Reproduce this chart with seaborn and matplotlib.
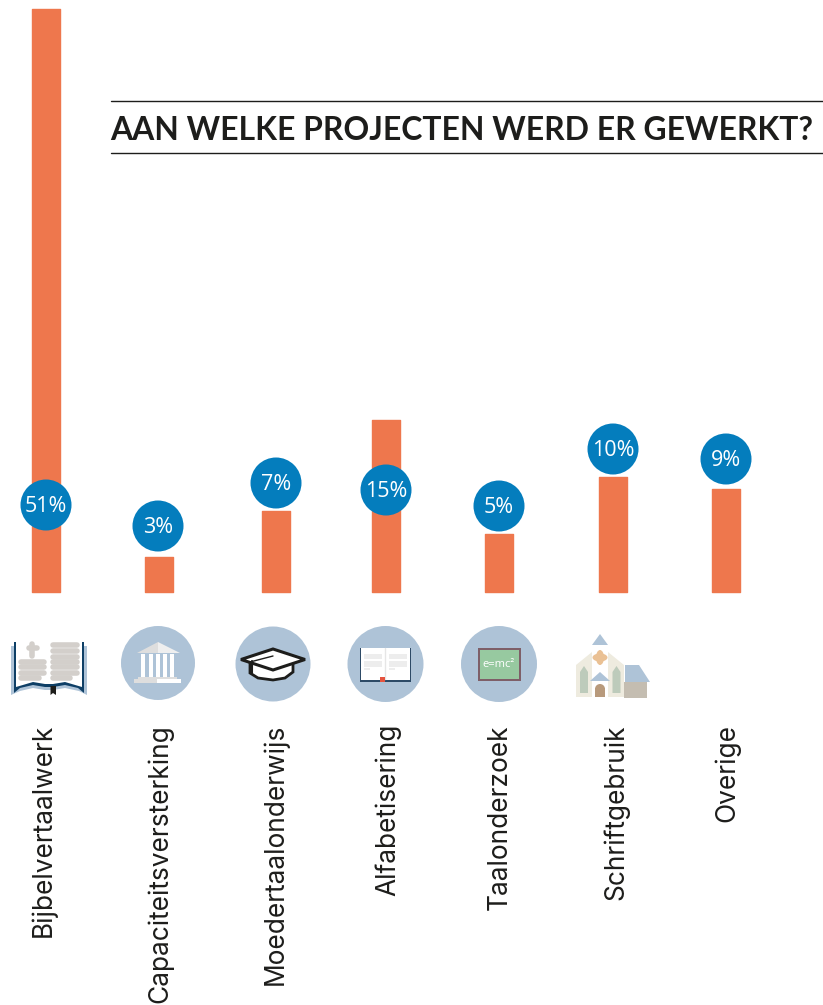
import numpy as np
import pandas as pd
import matplotlib
matplotlib.use("Agg")
import matplotlib.pyplot as plt
from matplotlib.patches import Circle, Polygon, Rectangle, Ellipse
import seaborn as sns

categories = ["Bijbelvertaalwerk", "Capaciteitsversterking", "Moedertaalonderwijs",
              "Alfabetisering", "Taalonderzoek", "Schriftgebruik", "Overige"]
values = [51, 3, 7, 15, 5, 10, 9]
badge_labels = ["51%", "3%", "7%", "15%", "5%", "10%", "9%"]
title = "AAN WELKE PROJECTEN WERD ER GEWERKT?"

# layout, in reference pixels
bar_x = [46, 159, 276, 386, 499, 613, 726]

W, H = 823, 1005
ORANGE = "#EE774D"; BLUE = "#047DBD"; PALE = "#AEC3D7"; INK = "#1d1d1b"

sns.set_theme(style="white")
plt.rcParams["font.family"] = ["Lato", "DejaVu Sans"]
fig = plt.figure(figsize=(W / 100, H / 100), dpi=100, facecolor="white")
ax = fig.add_axes([0, 0, 1, 1])
df = pd.DataFrame({"x": bar_x, "val": values, "cat": categories})
sns.barplot(data=df, x="x", y="val", native_scale=True, color=ORANGE, width=27.5 / 110,
            saturation=1, ax=ax, edgecolor=ORANGE, linewidth=1.0)
for p in ax.patches:
    p.set_joinstyle("round")
px_per_pct = 11.43
base = 591.5
ax.set_xlim(0, W)
ax.set_ylim(-(H - base) / px_per_pct, base / px_per_pct)
ax.axis("off")

ov = fig.add_axes([0, 0, 1, 1], facecolor="none")
ov.set_xlim(0, W); ov.set_ylim(H, 0); ov.axis("off")
renderer = fig.canvas.get_renderer()

def fit(txt, target, rotated=False):
    bb = txt.get_window_extent(renderer)
    cur = bb.height if rotated else bb.width
    txt.set_fontsize(txt.get_fontsize() * target / cur)

# title and rules
ov.plot([111, W], [100.5, 100.5], color=INK, lw=1)
ov.plot([111, W], [153, 153], color=INK, lw=1)
t = ov.text(110.5, 130, title, fontsize=24, fontweight="bold", family=["Lato", "DejaVu Sans"],
            color=INK, va="center", ha="left")
fit(t, 701)

# badges
cx = [46, 158, 276, 386, 499, 613, 726]
cy = [505, 526, 483, 490, 506, 449, 459]
for x, y, s in zip(cx, cy, badge_labels):
    ov.add_patch(Circle((x, y), 25.5, fc=BLUE, ec="none", zorder=3))
    ov.text(x, y + 1.2, s, color="white", fontsize=15.5, ha="center", va="center", zorder=4,
            family=["Open Sans", "DejaVu Sans"])

# rotated labels
lx = [44, 160, 276, 388, 500, 616, 727]
size = None
for x, s in zip(lx, categories):
    l = ov.text(x, 724, s, rotation=90, fontsize=18, color=INK, ha="center", va="top",
                family=["Inter", "DejaVu Sans"], fontweight="normal")
    if size is None:
        fit(l, 213, rotated=True)
        size = l.get_fontsize()
    l.set_fontsize(size)

def poly(pts, c, z=2):
    ov.add_patch(Polygon(pts, closed=True, fc=c, ec="none", zorder=z))
def rect(x, y, w, h, c, z=2):
    ov.add_patch(Rectangle((x, y), w, h, fc=c, ec="none", zorder=z))

# icon 1: open bible
poly([(11, 646), (87, 646), (87, 695), (79, 691), (65, 688), (53, 690), (45, 690), (33, 688), (20, 691), (11, 695)], PALE, 2)
poly([(14, 642), (84, 642), (84, 693), (78, 688), (65, 685), (53, 687), (45, 687), (33, 685), (20, 688), (14, 693)], "#0E3F66", 3)
poly([(16, 642), (82, 642), (82, 687), (65, 682), (53, 684), (45, 684), (33, 682), (16, 687)], "white", 4)
GREY = "#D3CFCB"
for y, a, b in [(645, 53, 77), (651, 53, 77), (656.5, 53, 77), (662, 53, 77), (667, 53, 77), (672.5, 53, 77), (678, 53, 70)]:
    ov.plot([a, b], [y, y], color=GREY, lw=4.0, solid_capstyle="round", zorder=5)
for y, a, b in [(662, 21, 44), (667, 21, 44), (672.5, 21, 44), (678, 21, 39)]:
    ov.plot([a, b], [y, y], color=GREY, lw=4.0, solid_capstyle="round", zorder=5)
ov.plot([32.5, 32.5], [644, 656], color=GREY, lw=4, solid_capstyle="round", zorder=5)
ov.plot([29, 37], [648, 648], color=GREY, lw=4, solid_capstyle="round", zorder=5)
poly([(50.5, 686), (56, 686), (56, 695), (53, 693), (50.5, 695)], INK, 6)

# icon 2: institution
ov.add_patch(Circle((158, 663), 37, fc=PALE, ec="none"))
poly([(137, 653), (158, 642), (158, 653)], "#DEDEDE", 3)
poly([(158, 642), (180, 653), (158, 653)], "#EFEFEF", 3)
for x in [141.5, 149, 156.5, 163.5, 170.5]:
    rect(x, 654, 4, 24, "white", 3)
rect(138, 677, 39, 2.5, "#DEDEDE", 3)
rect(134, 679, 23, 4, "#DEDEDE", 3)
rect(157, 679, 24, 4, "white", 3)

# icon 3: graduation cap
ov.add_patch(Circle((273, 664), 37.5, fc=PALE, ec="none"))
ov.add_patch(Polygon([(250, 663), (250, 673), (258, 678), (273, 680), (285, 678), (293, 672), (293, 663)],
                     closed=True, fc="white", ec=INK, lw=2, zorder=3))
ov.add_patch(Polygon([(241, 659.5), (273, 649), (305, 659.5), (273, 670)], closed=True, fc="white", ec=INK, lw=2.2, zorder=4))
ov.plot([250, 273], [662, 656], color=INK, lw=1, zorder=5)
ov.plot([252.5, 252.5], [661, 673], color=INK, lw=1.5, zorder=5)

# icon 4: open book
ov.add_patch(Circle((385.5, 664), 38, fc=PALE, ec="none"))
rect(360, 648, 51, 34, "#2D4A66", 3)
rect(361, 648, 49, 32, "white", 3)
for bx in (364, 389):
    rect(bx, 654, 18, 5, "#EDEDED", 4); rect(bx, 661, 18, 6, "#EDEDED", 4); rect(bx, 668, 6, 2, "#EDEDED", 4)
ov.plot([385.5, 385.5], [648, 679], color="#E6E6E6", lw=1, zorder=4)
rect(380, 677, 5, 5, "#E5543F", 5)

# icon 5: chalkboard
ov.add_patch(Circle((499, 664), 38, fc=PALE, ec="none"))
rect(478, 647.5, 43, 33, "#7E5F68", 3)
rect(480, 649.5, 39, 29, "#97C9A0", 3)
ov.text(499, 664, "e=mc\u00b2", color="white", fontsize=8, ha="center", va="center", zorder=4,
        family=["Open Sans", "DejaVu Sans"])

# icon 6: church
poly([(576, 665), (592, 652), (592, 697), (576, 697)], "#EEEBDF", 3)
poly([(624, 665), (608, 652), (608, 697), (624, 697)], "#EEEBDF", 3)
poly([(592, 645), (608, 645), (600, 634)], PALE, 4)
ov.add_patch(Ellipse((600, 657.5), 15, 8, fc="#EAC194", ec="none", zorder=4))
ov.add_patch(Ellipse((600, 657.5), 8, 15, fc="#EAC194", ec="none", zorder=4))
poly([(590, 681), (610, 681), (600, 672)], PALE, 4)
rect(595, 688, 10, 9, "#B89A7C", 4)
ov.add_patch(Circle((600, 689), 5, fc="#B89A7C", ec="none", zorder=4))
for x in [584, 616.5]:
    poly([(x - 4, 693), (x - 4, 672), (x, 666), (x + 4, 672), (x + 4, 693)], "#BDCBBB", 4)
poly([(625, 665), (639, 665), (650, 682), (625, 682)], PALE, 4)
rect(624, 682, 23, 16, "#C4BDB1", 4)

fig.savefig("out.png", dpi=100)
